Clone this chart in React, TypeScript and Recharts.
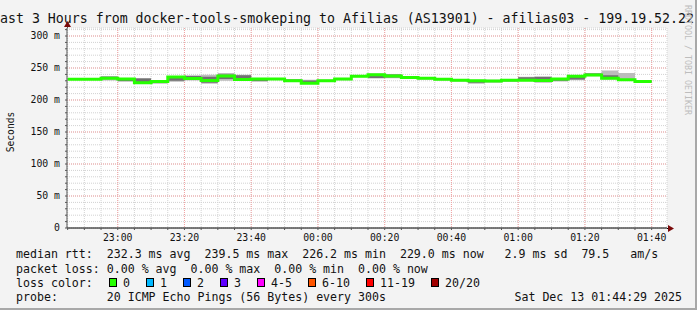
import React from "react";
import {
  ComposedChart,
  Area,
  Line,
  XAxis,
  YAxis,
  CartesianGrid,
} from "recharts";

// 5 minute slots (start time), one rrd step each
const slotStarts = [
  "22:45", "22:50", "22:55", "23:00", "23:05", "23:10", "23:15", "23:20", "23:25",
  "23:30", "23:35", "23:40", "23:45", "23:50", "23:55", "00:00", "00:05", "00:10",
  "00:15", "00:20", "00:25", "00:30", "00:35", "00:40", "00:45", "00:50", "00:55",
  "01:00", "01:05", "01:10", "01:15", "01:20", "01:25", "01:30", "01:35",
];
const slotEnd = "01:40";

// median rtt in ms
const median = [
  232.5, 232.5, 234, 233, 227, 229, 236, 233.5, 230.5,
  237.5, 232, 233, 233, 230, 226.2, 230, 233, 237,
  239.5, 237.5, 235, 234, 232.5, 231, 230, 229.7, 230.8,
  231, 230.5, 233, 237, 239, 234, 231.5, 229,
];
// outer smoke (light)
const smokeLo = [
  231.5, 231.5, 230.5, 228.5, 225.5, 225.5, 228.5, 230.5, 225.5,
  230, 229.5, 228.5, 231.5, 228.5, 225, 228, 231, 235.5,
  233.5, 234, 233, 232, 230.5, 229, 225.5, 227, 228,
  229.5, 227, 229, 231, 237, 232, 230, 227.5,
];
const smokeHi = [
  233.5, 234, 237.5, 234.5, 234.5, 231, 237.5, 238.5, 239.5,
  242, 239.5, 234.5, 234.5, 232.5, 231.5, 232, 234.5, 239,
  241.5, 240.5, 237, 236, 234, 233, 231.5, 231.5, 232,
  236.5, 237, 234.5, 238, 242, 246, 242, 230.5,
];
// inner smoke (dark)
const coreLo = [
  232, 232, 233, 229.5, 226.5, 227, 230, 231.5, 227,
  233, 231, 229.5, 232, 229, 225.8, 229, 232, 236,
  234.5, 235, 234, 233, 231.5, 230, 227, 228.5, 229.5,
  230, 228, 230, 232, 237.5, 233, 230.5, 228,
];
const coreHi = [
  233, 233.5, 236.5, 233.5, 233.5, 230, 236.5, 237.5, 236.5,
  240, 238.5, 233.5, 234, 232, 230.5, 231, 234, 238.5,
  240.5, 240, 236, 235, 233.5, 232, 231, 231, 231.5,
  235.5, 236, 234, 237.5, 241.5, 238.5, 233, 230,
];

const xLabels = ["23:00", "23:20", "23:40", "00:00", "00:20", "00:40", "01:00", "01:20", "01:40"];
const yLabels = [0, 50, 100, 150, 200, 250, 300];

const lossColors = [
  { label: "0", color: "#26ff00", x: 109 },
  { label: "1", color: "#00b8ff", x: 146 },
  { label: "2", color: "#0059ff", x: 183 },
  { label: "3", color: "#5e00ff", x: 220 },
  { label: "4-5", color: "#ff00ff", x: 257 },
  { label: "6-10", color: "#ff5500", x: 308 },
  { label: "11-19", color: "#ff0000", x: 366 },
  { label: "20/20", color: "#a10000", x: 431 },
];

const toMin = (s: string) => {
  const [h, m] = s.split(":").map(Number);
  return (h < 12 ? h + 24 : h) * 60 + m - 22 * 60;
};
const fmtMin = (v: number) => {
  const tot = (v + 22 * 60) % (24 * 60);
  const h = Math.floor(tot / 60);
  const m = tot % 60;
  return `${String(h).padStart(2, "0")}:${String(m).padStart(2, "0")}`;
};

const data = slotStarts.map((s, i) => ({
  t: toMin(s),
  med: median[i],
  outer: [smokeLo[i], smokeHi[i]],
  inner: [coreLo[i], coreHi[i]],
}));
const last = data[data.length - 1];
data.push({ ...last, t: toMin(slotEnd) });

const xMajor = xLabels.map(toMin);
const xTicks = [...slotStarts, slotEnd].map(toMin);
const yTicks = Array.from({ length: 32 }, (_, i) => i * 10);
const yMajor = yLabels.slice(1);

const MONO = "'DejaVu Sans Mono', monospace";
const tickStyle = { fontSize: 9.8, fill: "#111", fontFamily: MONO };

// major (red) grid: pixel positions from the axis scales
const scaleOf = (axis: any) => {
  const s = axis?.scale;
  if (typeof s === "function") return s;
  if (s && typeof s.map === "function") return (v: number) => s.map(v);
  return null;
};
const majorH = ({ yAxis }: any) => {
  const s = scaleOf(yAxis);
  return s ? yMajor.map((v) => s(v)) : [];
};
const majorV = ({ xAxis }: any) => {
  const s = scaleOf(xAxis);
  return s ? xMajor.map((v) => s(v)) : [];
};

const legendRow: React.CSSProperties = {
  position: "absolute",
  left: 16,
  whiteSpace: "pre",
  fontFamily: MONO,
  fontSize: 11.6,
  lineHeight: "14px",
  color: "#111",
};

export default function App() {
  return (
    <div
      style={{
        position: "absolute",
        left: 0,
        top: 0,
        width: 697,
        height: 310,
        background: "#f3f3f3",
        overflow: "hidden",
      }}
    >
      <ComposedChart
        width={697}
        height={310}
        data={data}
        margin={{ top: 28, right: 30, bottom: 0, left: 0 }}
      >
        <CartesianGrid stroke="#d2d2d2" strokeDasharray="1 1" fill="#ffffff" />
        <CartesianGrid
          stroke="#f3a3a3"
          strokeDasharray="1 1"
          horizontalCoordinatesGenerator={majorH}
          verticalCoordinatesGenerator={majorV}
        />
        <XAxis
          type="number"
          dataKey="t"
          domain={[44.8, 224.6]}
          allowDataOverflow
          ticks={xTicks}
          interval={0}
          tickFormatter={(v) => (xMajor.includes(v) ? fmtMin(v) : "")}
          tick={tickStyle}
          tickSize={2}
          tickMargin={4}
          height={82}
          axisLine={{ stroke: "#000" }}
          tickLine={{ stroke: "#555" }}
        />
        <YAxis
          type="number"
          domain={[0, 312.5]}
          allowDataOverflow
          ticks={yTicks}
          interval={0}
          tickFormatter={(v) => (yLabels.includes(v) ? (v === 0 ? "0" : `${v} m`) : "")}
          tick={tickStyle}
          tickSize={2}
          tickMargin={5}
          width={67}
          axisLine={{ stroke: "#555" }}
          tickLine={{ stroke: "#555" }}
        />
        <Area
          type="stepAfter"
          dataKey="outer"
          stroke="none"
          fill="#bcbcbc"
          fillOpacity={1}
          isAnimationActive={false}
        />
        <Area
          type="stepAfter"
          dataKey="inner"
          stroke="none"
          fill="#707070"
          fillOpacity={1}
          isAnimationActive={false}
        />
        <Line
          type="stepAfter"
          dataKey="med"
          stroke="#26ff00"
          strokeWidth={3}
          dot={false}
          activeDot={false}
          isAnimationActive={false}
        />
      </ComposedChart>

      <svg
        width={697}
        height={310}
        style={{ position: "absolute", left: 0, top: 0, pointerEvents: "none" }}
      >
        <text x={-8} y={23} fontFamily={MONO} fontSize={13.25} fill="#111">
          Last 3 Hours from docker-tools-smokeping to Afilias (AS13901) - afilias03 - 199.19.52.22
        </text>
        <text
          transform="translate(13.5,132) rotate(-90)"
          textAnchor="middle"
          fontFamily={MONO}
          fontSize={9.6}
          fill="#111"
        >
          Seconds
        </text>
        <text
          transform="translate(685,5) rotate(90)"
          fontFamily={MONO}
          fontSize={8.3}
          fill="#bdbdbd"
        >
          RRDTOOL / TOBI OETIKER
        </text>
        <line x1={67.5} y1={23} x2={67.5} y2={28} stroke="#555" />
        <line x1={667} y1={228.5} x2={670} y2={228.5} stroke="#000" />
        <polygon points="67.5,21 64,27 71,27" fill="#7a0a0a" />
        <polygon points="668,225 674,228.5 668,232" fill="#7a0a0a" />
        <line x1={0} y1={309} x2={697} y2={309} stroke="#a8a8a8" strokeWidth={2} />
        <line x1={696} y1={0} x2={696} y2={310} stroke="#a8a8a8" strokeWidth={2} />
      </svg>

      <div style={{ ...legendRow, top: 247 }}>
        {"median rtt:  232.3 ms avg  239.5 ms max  226.2 ms min  229.0 ms now   2.9 ms sd  79.5   am/s"}
      </div>
      <div style={{ ...legendRow, top: 261.5 }}>
        {"packet loss: 0.00 % avg  0.00 % max  0.00 % min  0.00 % now"}
      </div>
      <div style={{ ...legendRow, top: 275.5 }}>{"loss color:"}</div>
      {lossColors.map((c) => (
        <React.Fragment key={c.label}>
          <div
            style={{
              position: "absolute",
              left: c.x,
              top: 278,
              width: 6,
              height: 7,
              background: c.color,
              border: "1px solid #000",
            }}
          />
          <div style={{ ...legendRow, left: c.x + 14, top: 275.5 }}>{c.label}</div>
        </React.Fragment>
      ))}
      <div style={{ ...legendRow, top: 289.5 }}>
        {"probe:       20 ICMP Echo Pings (56 Bytes) every 300s"}
      </div>
      <div style={{ ...legendRow, left: "auto", right: 15, top: 289.5 }}>
        {"Sat Dec 13 01:44:29 2025"}
      </div>
    </div>
  );
}
